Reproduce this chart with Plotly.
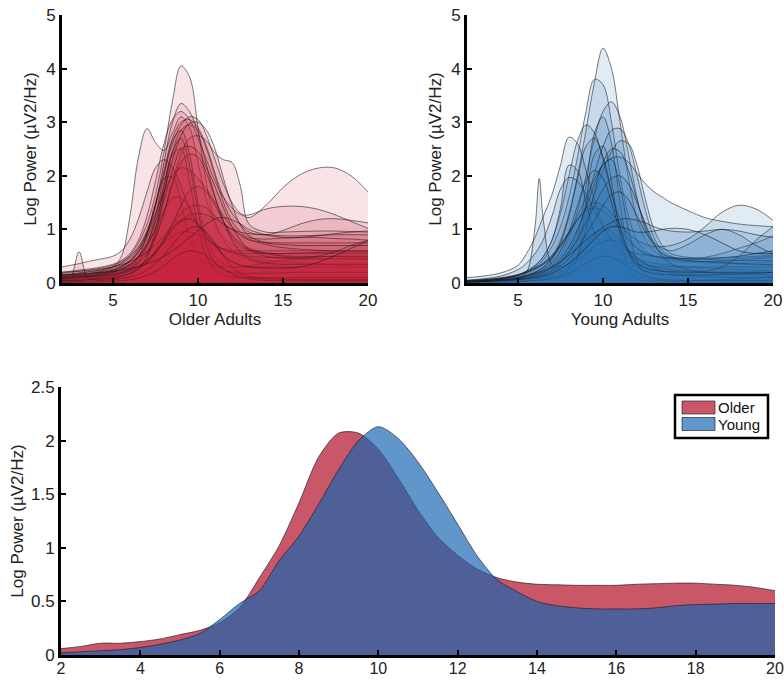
import plotly.graph_objects as go

# ---------------------------------------------------------------------------
# Individual log power spectra, older adults (one row per participant)
# ---------------------------------------------------------------------------
OLDER_FREQS = [2, 2.5, 3, 3.5, 4, 4.5, 5, 5.5, 6, 6.5, 7, 7.5, 8, 8.5, 9,
               9.5, 10, 10.5, 11, 11.5, 12, 12.5, 13, 14, 15, 16, 17, 18, 19, 20]

OLDER_SPECTRA = [
    [0.15, 0.16, 0.18, 0.2, 0.22, 0.25, 0.3, 0.38, 0.52, 0.75, 1.1, 1.65, 2.45, 3.4, 4.05, 3.85, 2.9, 1.85, 1.15, 0.8, 0.62, 0.52, 0.47, 0.42, 0.4, 0.38, 0.36, 0.34, 0.32, 0.3],
    [0.12, 0.13, 0.15, 0.17, 0.2, 0.24, 0.3, 0.5, 1.25, 2.35, 2.88, 2.62, 2.47, 2.8, 3.1, 2.9, 2.25, 1.55, 1.1, 0.85, 0.72, 0.65, 0.6, 0.55, 0.52, 0.5, 0.5, 0.49, 0.48, 0.47],
    [0.1, 0.11, 0.12, 0.14, 0.16, 0.19, 0.23, 0.3, 0.42, 0.62, 0.95, 1.45, 2.05, 2.6, 2.95, 3.1, 3.05, 2.75, 2.3, 1.85, 1.5, 1.3, 1.22, 1.45, 1.78, 2.02, 2.14, 2.15, 2.0, 1.7],
    [0.2, 0.22, 0.24, 0.26, 0.28, 0.31, 0.35, 0.42, 0.55, 0.8, 1.25, 1.9, 2.6, 3.05, 3.2, 3.05, 2.7, 2.3, 1.9, 1.6, 1.4, 1.28, 1.27, 1.38, 1.43, 1.43, 1.38, 1.28, 1.15, 1.02],
    [0.08, 0.09, 0.1, 0.11, 0.13, 0.15, 0.18, 0.22, 0.3, 0.42, 0.6, 0.9, 1.35, 1.9, 2.4, 2.7, 2.75, 2.65, 2.42, 2.3, 2.25, 1.8, 1.1, 0.95, 0.95, 0.96, 0.97, 0.97, 0.96, 0.95],
    [0.18, 0.2, 0.22, 0.24, 0.26, 0.29, 0.33, 0.4, 0.5, 0.68, 0.98, 1.45, 2.1, 2.7, 3.0, 3.05, 2.9, 2.55, 2.05, 1.6, 1.3, 1.1, 0.95, 0.9, 0.98, 1.1, 1.18, 1.2, 1.17, 1.12],
    [0.13, 0.14, 0.15, 0.17, 0.19, 0.22, 0.26, 0.32, 0.42, 0.58, 0.85, 1.25, 1.85, 2.45, 2.85, 2.95, 2.85, 2.5, 2.0, 1.5, 1.15, 0.95, 0.85, 0.82, 0.84, 0.85, 0.85, 0.83, 0.82, 0.8],
    [0.05, 0.06, 0.07, 0.08, 0.09, 0.11, 0.13, 0.17, 0.25, 0.4, 0.7, 1.25, 2.0, 2.65, 2.85, 2.4, 1.5, 0.85, 0.5, 0.35, 0.3, 0.3, 0.32, 0.38, 0.42, 0.45, 0.48, 0.5, 0.5, 0.5],
    [0.3, 0.33, 0.36, 0.4, 0.43, 0.46, 0.5, 0.6, 0.82, 1.2, 1.7, 2.15, 2.3, 2.15, 1.8, 1.4, 1.05, 0.82, 0.7, 0.64, 0.61, 0.6, 0.6, 0.6, 0.6, 0.6, 0.6, 0.6, 0.6, 0.6],
    [0.04, 0.05, 0.06, 0.07, 0.08, 0.1, 0.12, 0.17, 0.27, 0.48, 0.9, 1.5, 1.95, 1.98, 1.5, 0.85, 0.5, 0.38, 0.32, 0.3, 0.3, 0.3, 0.3, 0.3, 0.3, 0.3, 0.3, 0.3, 0.3, 0.3],
    [0.16, 0.17, 0.19, 0.21, 0.23, 0.26, 0.3, 0.36, 0.47, 0.65, 0.92, 1.3, 1.7, 2.0, 2.15, 2.1, 1.95, 1.75, 1.5, 1.25, 1.05, 0.9, 0.8, 0.76, 0.75, 0.75, 0.75, 0.75, 0.75, 0.75],
    [0.1, 0.11, 0.12, 0.13, 0.15, 0.17, 0.2, 0.25, 0.33, 0.47, 0.7, 1.0, 1.35, 1.58, 1.6, 1.4, 1.1, 0.85, 0.7, 0.62, 0.58, 0.56, 0.55, 0.55, 0.55, 0.55, 0.55, 0.55, 0.55, 0.55],
    [0.07, 0.08, 0.09, 0.1, 0.11, 0.13, 0.15, 0.18, 0.23, 0.3, 0.42, 0.6, 0.85, 1.1, 1.3, 1.42, 1.45, 1.4, 1.25, 1.1, 1.0, 0.95, 0.92, 0.9, 0.88, 0.88, 0.89, 0.9, 0.9, 0.9],
    [0.2, 0.21, 0.22, 0.23, 0.25, 0.27, 0.3, 0.34, 0.4, 0.48, 0.58, 0.72, 0.88, 1.05, 1.18, 1.27, 1.3, 1.27, 1.2, 1.1, 1.0, 0.9, 0.82, 0.72, 0.66, 0.63, 0.61, 0.6, 0.6, 0.6],
    [0.06, 0.07, 0.08, 0.09, 0.1, 0.12, 0.14, 0.17, 0.22, 0.3, 0.42, 0.58, 0.75, 0.88, 0.95, 0.95, 0.9, 0.82, 0.72, 0.63, 0.57, 0.53, 0.5, 0.48, 0.48, 0.48, 0.49, 0.5, 0.5, 0.5],
    [0.05, 0.1, 0.58, 0.1, 0.06, 0.06, 0.07, 0.09, 0.14, 0.25, 0.5, 1.0, 1.8, 2.4, 2.5, 1.9, 1.05, 0.5, 0.25, 0.15, 0.12, 0.1, 0.1, 0.1, 0.1, 0.1, 0.1, 0.1, 0.1, 0.1],
    [0.03, 0.04, 0.05, 0.06, 0.07, 0.08, 0.1, 0.13, 0.18, 0.28, 0.48, 0.9, 1.65, 2.45, 2.7, 2.2, 1.35, 0.7, 0.38, 0.25, 0.2, 0.18, 0.18, 0.18, 0.19, 0.2, 0.2, 0.2, 0.2, 0.2],
    [0.12, 0.13, 0.14, 0.15, 0.17, 0.19, 0.22, 0.27, 0.35, 0.48, 0.7, 1.05, 1.55, 2.1, 2.5, 2.55, 2.45, 2.15, 1.8, 1.4, 1.05, 0.8, 0.62, 0.5, 0.46, 0.45, 0.45, 0.45, 0.45, 0.45],
    [0.09, 0.1, 0.11, 0.12, 0.13, 0.15, 0.17, 0.2, 0.25, 0.32, 0.42, 0.58, 0.8, 1.1, 1.45, 1.72, 1.8, 1.7, 1.45, 1.15, 0.9, 0.75, 0.65, 0.55, 0.5, 0.48, 0.5, 0.58, 0.7, 0.8],
    [0.08, 0.09, 0.1, 0.11, 0.12, 0.14, 0.16, 0.2, 0.27, 0.38, 0.55, 0.85, 1.3, 1.85, 2.25, 2.4, 2.35, 2.05, 1.6, 1.15, 0.8, 0.58, 0.45, 0.37, 0.35, 0.35, 0.35, 0.35, 0.35, 0.35],
    [0.02, 0.02, 0.03, 0.03, 0.04, 0.05, 0.06, 0.08, 0.11, 0.16, 0.24, 0.36, 0.52, 0.72, 0.9, 1.02, 1.05, 0.95, 0.75, 0.5, 0.3, 0.18, 0.12, 0.08, 0.07, 0.06, 0.06, 0.06, 0.06, 0.06],
    [0.01, 0.01, 0.02, 0.02, 0.02, 0.03, 0.03, 0.04, 0.06, 0.09, 0.14, 0.22, 0.32, 0.45, 0.55, 0.6, 0.58, 0.5, 0.38, 0.26, 0.17, 0.11, 0.08, 0.05, 0.04, 0.04, 0.04, 0.04, 0.04, 0.04],
    [0.14, 0.15, 0.16, 0.17, 0.19, 0.21, 0.24, 0.3, 0.4, 0.58, 0.9, 1.45, 2.25, 3.0, 3.35, 3.2, 2.8, 2.2, 1.6, 1.15, 0.85, 0.7, 0.62, 0.56, 0.55, 0.56, 0.57, 0.58, 0.58, 0.58],
    [0.15, 0.16, 0.17, 0.18, 0.19, 0.2, 0.22, 0.24, 0.27, 0.31, 0.36, 0.42, 0.5, 0.6, 0.72, 0.85, 0.98, 1.1, 1.2, 1.22, 1.18, 1.1, 1.0, 0.9, 0.85, 0.85, 0.88, 0.92, 0.95, 0.97],
    [0.04, 0.05, 0.05, 0.06, 0.07, 0.08, 0.1, 0.13, 0.18, 0.26, 0.38, 0.55, 0.78, 1.0, 1.15, 1.2, 1.1, 0.9, 0.7, 0.52, 0.4, 0.33, 0.3, 0.28, 0.28, 0.3, 0.38, 0.5, 0.65, 0.78],
    [0.1, 0.11, 0.12, 0.13, 0.15, 0.17, 0.2, 0.25, 0.34, 0.5, 0.75, 1.15, 1.7, 2.3, 2.75, 2.98, 3.0, 2.85, 2.5, 1.95, 1.45, 1.08, 0.88, 0.75, 0.72, 0.7, 0.7, 0.7, 0.7, 0.7],
]

# ---------------------------------------------------------------------------
# Individual log power spectra, young adults
# ---------------------------------------------------------------------------
YOUNG_FREQS = [2, 3, 4, 5, 5.5, 6, 6.25, 6.5, 7, 7.5, 8, 8.5, 9, 9.5, 10,
               10.5, 11, 11.5, 12, 12.5, 13, 13.5, 14, 15, 16, 17, 18, 19, 20]

YOUNG_SPECTRA = [
    [0.03, 0.04, 0.06, 0.1, 0.14, 0.2, 0.24, 0.3, 0.48, 0.8, 1.3, 2.0, 2.85, 3.75, 4.38, 4.0, 3.0, 1.95, 1.2, 0.8, 0.6, 0.5, 0.45, 0.4, 0.38, 0.37, 0.37, 0.38, 0.4],
    [0.05, 0.07, 0.1, 0.16, 0.22, 0.3, 0.36, 0.44, 0.68, 1.05, 1.6, 2.35, 3.2, 3.8, 3.7, 3.0, 2.0, 1.25, 0.8, 0.6, 0.5, 0.45, 0.42, 0.4, 0.4, 0.42, 0.45, 0.48, 0.5],
    [0.02, 0.03, 0.04, 0.07, 0.1, 0.14, 0.17, 0.21, 0.33, 0.52, 0.85, 1.35, 2.0, 2.7, 3.2, 3.38, 3.1, 2.4, 1.6, 1.0, 0.7, 0.55, 0.48, 0.45, 0.45, 0.47, 0.5, 0.55, 0.6],
    [0.01, 0.01, 0.02, 0.03, 0.04, 0.05, 0.06, 0.07, 0.1, 0.15, 0.3, 0.8, 1.8, 2.8, 3.1, 2.6, 1.5, 0.6, 0.2, 0.08, 0.05, 0.04, 0.04, 0.04, 0.04, 0.04, 0.04, 0.04, 0.04],
    [0.04, 0.06, 0.09, 0.15, 0.22, 0.32, 0.4, 0.5, 0.8, 1.3, 2.0, 2.65, 2.95, 2.8, 2.3, 1.7, 1.2, 0.85, 0.65, 0.55, 0.5, 0.48, 0.47, 0.46, 0.46, 0.47, 0.48, 0.5, 0.52],
    [0.02, 0.03, 0.04, 0.06, 0.08, 0.11, 0.13, 0.16, 0.24, 0.38, 0.6, 0.95, 1.45, 2.05, 2.55, 2.85, 2.88, 2.6, 2.0, 1.35, 0.85, 0.6, 0.5, 0.42, 0.4, 0.4, 0.42, 0.45, 0.48],
    [0.1, 0.13, 0.19, 0.33, 0.55, 0.85, 1.05, 1.25, 1.65, 2.2, 2.72, 2.6, 2.1, 1.55, 1.1, 0.8, 0.62, 0.52, 0.45, 0.4, 0.37, 0.35, 0.33, 0.3, 0.28, 0.26, 0.25, 0.24, 0.24],
    [0.02, 0.03, 0.05, 0.08, 0.1, 0.13, 0.15, 0.18, 0.25, 0.37, 0.55, 0.82, 1.2, 1.65, 2.1, 2.45, 2.65, 2.6, 2.2, 1.55, 1.0, 0.7, 0.55, 0.48, 0.46, 0.47, 0.5, 0.55, 0.6],
    [0.01, 0.01, 0.02, 0.03, 0.04, 0.05, 0.06, 0.06, 0.08, 0.1, 0.12, 0.5, 1.5, 2.4, 2.55, 1.9, 0.9, 0.3, 0.08, 0.04, 0.03, 0.03, 0.03, 0.03, 0.03, 0.03, 0.03, 0.03, 0.03],
    [0.04, 0.06, 0.09, 0.15, 0.2, 0.27, 0.31, 0.36, 0.5, 0.7, 0.95, 1.25, 1.6, 1.95, 2.2, 2.33, 2.35, 2.25, 2.05, 1.85, 1.7, 1.6, 1.5, 1.35, 1.22, 1.15, 1.1, 1.07, 1.05],
    [0.03, 0.05, 0.08, 0.15, 0.22, 0.33, 0.4, 0.5, 0.8, 1.4, 2.2, 2.1, 1.5, 0.95, 0.65, 0.5, 0.42, 0.38, 0.35, 0.33, 0.32, 0.31, 0.3, 0.3, 0.3, 0.3, 0.3, 0.3, 0.3],
    [0.05, 0.08, 0.13, 0.25, 0.37, 0.55, 0.67, 0.82, 1.25, 1.75, 1.97, 1.9, 1.65, 1.35, 1.05, 0.82, 0.68, 0.6, 0.55, 0.52, 0.5, 0.48, 0.47, 0.45, 0.44, 0.43, 0.42, 0.42, 0.42],
    [0.02, 0.03, 0.05, 0.09, 0.2, 1.05, 1.95, 1.15, 0.35, 0.3, 0.35, 0.48, 0.7, 0.9, 1.0, 0.95, 0.8, 0.6, 0.45, 0.35, 0.3, 0.27, 0.25, 0.22, 0.2, 0.18, 0.17, 0.16, 0.15],
    [0.02, 0.04, 0.07, 0.14, 0.2, 0.28, 0.33, 0.38, 0.52, 0.72, 0.95, 1.18, 1.35, 1.4, 1.35, 1.2, 1.0, 0.8, 0.65, 0.55, 0.5, 0.47, 0.46, 0.46, 0.48, 0.55, 0.65, 0.75, 0.88],
    [0.01, 0.01, 0.02, 0.03, 0.04, 0.05, 0.06, 0.07, 0.1, 0.15, 0.25, 0.5, 1.0, 1.7, 2.2, 2.3, 1.8, 1.0, 0.4, 0.15, 0.07, 0.05, 0.04, 0.04, 0.05, 0.06, 0.08, 0.1, 0.12],
    [0.01, 0.02, 0.03, 0.05, 0.06, 0.08, 0.09, 0.1, 0.14, 0.2, 0.3, 0.42, 0.55, 0.68, 0.77, 0.8, 0.75, 0.62, 0.48, 0.36, 0.28, 0.22, 0.18, 0.14, 0.12, 0.11, 0.1, 0.1, 0.1],
    [0.01, 0.01, 0.02, 0.03, 0.04, 0.05, 0.05, 0.06, 0.08, 0.12, 0.18, 0.27, 0.37, 0.45, 0.5, 0.48, 0.4, 0.3, 0.2, 0.13, 0.09, 0.07, 0.06, 0.05, 0.05, 0.05, 0.05, 0.05, 0.05],
    [0.03, 0.05, 0.08, 0.14, 0.19, 0.26, 0.3, 0.35, 0.48, 0.68, 0.92, 1.18, 1.4, 1.5, 1.45, 1.3, 1.1, 0.92, 0.8, 0.72, 0.68, 0.68, 0.7, 0.82, 1.05, 1.32, 1.45, 1.38, 1.17],
    [0.02, 0.03, 0.05, 0.08, 0.11, 0.15, 0.17, 0.2, 0.28, 0.4, 0.58, 0.82, 1.12, 1.45, 1.75, 1.95, 2.0, 1.85, 1.5, 1.1, 0.75, 0.5, 0.36, 0.25, 0.22, 0.3, 0.5, 0.8, 1.05],
    [0.02, 0.03, 0.05, 0.08, 0.11, 0.15, 0.18, 0.21, 0.3, 0.45, 0.68, 1.0, 1.4, 1.85, 2.25, 2.5, 2.45, 2.1, 1.55, 1.05, 0.72, 0.55, 0.47, 0.42, 0.4, 0.38, 0.36, 0.35, 0.34],
    [0.02, 0.03, 0.05, 0.07, 0.09, 0.12, 0.14, 0.16, 0.22, 0.32, 0.46, 0.66, 0.9, 1.17, 1.45, 1.65, 1.7, 1.55, 1.25, 0.95, 0.75, 0.65, 0.6, 0.72, 0.9, 1.0, 0.9, 0.7, 0.55],
    [0.02, 0.03, 0.05, 0.09, 0.13, 0.18, 0.21, 0.25, 0.38, 0.6, 0.95, 1.45, 1.9, 2.1, 1.95, 1.5, 0.95, 0.55, 0.32, 0.22, 0.18, 0.16, 0.15, 0.15, 0.15, 0.16, 0.17, 0.18, 0.2],
    [0.03, 0.05, 0.07, 0.11, 0.14, 0.18, 0.2, 0.23, 0.3, 0.4, 0.52, 0.66, 0.8, 0.93, 1.04, 1.13, 1.19, 1.2, 1.17, 1.12, 1.05, 1.0, 0.97, 0.95, 0.97, 1.0, 0.97, 0.9, 0.85],
    [0.03, 0.04, 0.06, 0.1, 0.14, 0.2, 0.24, 0.29, 0.45, 0.75, 1.25, 1.95, 2.55, 2.7, 2.35, 1.7, 1.05, 0.6, 0.38, 0.28, 0.24, 0.22, 0.21, 0.2, 0.2, 0.2, 0.2, 0.2, 0.2],
    [0.02, 0.03, 0.04, 0.06, 0.08, 0.1, 0.11, 0.13, 0.18, 0.26, 0.37, 0.5, 0.65, 0.82, 0.97, 1.05, 1.05, 1.0, 0.95, 0.95, 0.97, 1.0, 1.02, 1.0, 0.9, 0.75, 0.6, 0.55, 0.55],
]

# ---------------------------------------------------------------------------
# Group-average spectra
# ---------------------------------------------------------------------------
MEAN_FREQS = [2, 2.5, 3, 3.5, 4, 4.5, 5, 5.5, 6, 6.5, 7, 7.5, 8, 8.5, 9, 9.5,
              10, 10.5, 11, 11.5, 12, 12.5, 13, 13.5, 14, 14.5, 15, 15.5, 16,
              16.5, 17, 17.5, 18, 18.5, 19, 19.5, 20]

OLDER_MEAN = [0.06, 0.08, 0.11, 0.11, 0.125, 0.15, 0.19, 0.23, 0.3, 0.44, 0.72,
              1.02, 1.42, 1.85, 2.07, 2.07, 1.92, 1.65, 1.35, 1.1, 0.93, 0.8,
              0.72, 0.68, 0.66, 0.655, 0.65, 0.65, 0.65, 0.66, 0.665, 0.67,
              0.67, 0.66, 0.65, 0.63, 0.6]

YOUNG_MEAN = [0.02, 0.03, 0.04, 0.05, 0.07, 0.1, 0.14, 0.2, 0.33, 0.48, 0.6,
              0.88, 1.11, 1.41, 1.73, 2.0, 2.13, 2.02, 1.8, 1.52, 1.22, 0.92,
              0.7, 0.59, 0.5, 0.46, 0.44, 0.43, 0.43, 0.43, 0.44, 0.46, 0.47,
              0.475, 0.48, 0.48, 0.48]

GROUP_NAMES = ["Older", "Young"]

# ---------------------------------------------------------------------------
# Styling
# ---------------------------------------------------------------------------
W, H = 784, 680
FONT = "Liberation Sans, Arial, Helvetica, sans-serif"
YTITLE = "Log Power (µV2/Hz)"

OLDER_LAYER = "rgba(195, 35, 55, 0.12)"
YOUNG_LAYER = "rgba(40, 110, 180, 0.14)"
SUBJECT_EDGE = "rgba(25, 25, 25, 0.72)"

OLDER_AREA = "rgba(176, 8, 31, 0.68)"
YOUNG_AREA = "rgba(20, 100, 177, 0.68)"
MEAN_EDGE = "rgba(30, 30, 50, 0.85)"


def px(x):
    return x / W


def py(y):
    return (H - y) / H


def xdom(left, right):
    return [px(left), px(right)]


def ydom(top, bottom):
    return [py(bottom), py(top)]


fig = go.Figure()

for spectrum in OLDER_SPECTRA:
    fig.add_trace(go.Scatter(
        x=OLDER_FREQS, y=spectrum, mode="lines", fill="tozeroy",
        fillcolor=OLDER_LAYER,
        line=dict(color=SUBJECT_EDGE, width=0.8, shape="spline", smoothing=1.0),
        xaxis="x", yaxis="y", showlegend=False, hoverinfo="skip"))

for spectrum in YOUNG_SPECTRA:
    fig.add_trace(go.Scatter(
        x=YOUNG_FREQS, y=spectrum, mode="lines", fill="tozeroy",
        fillcolor=YOUNG_LAYER,
        line=dict(color=SUBJECT_EDGE, width=0.8, shape="spline", smoothing=1.0),
        xaxis="x2", yaxis="y2", showlegend=False, hoverinfo="skip"))

for name, values, color in ((GROUP_NAMES[0], OLDER_MEAN, OLDER_AREA),
                            (GROUP_NAMES[1], YOUNG_MEAN, YOUNG_AREA)):
    fig.add_trace(go.Scatter(
        x=MEAN_FREQS, y=values, mode="lines", fill="tozeroy", fillcolor=color,
        line=dict(color=MEAN_EDGE, width=0.8, shape="spline", smoothing=0.8),
        xaxis="x3", yaxis="y3", name=name, showlegend=False))

axis_common = dict(
    showline=True, linecolor="black", linewidth=3, mirror=False,
    ticks="inside", ticklen=5, tickwidth=2, tickcolor="black",
    showgrid=False, zeroline=False, automargin=False,
    ticklabeloverflow="allow",
    tickfont=dict(family=FONT, size=17, color="#222"),
)

title_font = dict(family=FONT, size=17, color="#222")

# Legend box for the group averages: outer frame, colour swatches, labels
shapes = [dict(type="rect", xref="paper", yref="paper",
               x0=px(675), x1=px(768), y0=py(438), y1=py(395),
               line=dict(color="black", width=2.5), fillcolor="white",
               layer="above")]
annotations = []
for i, (name, color) in enumerate(zip(GROUP_NAMES, (OLDER_AREA, YOUNG_AREA))):
    top = 401 + i * 16.5
    shapes.append(dict(type="rect", xref="paper", yref="paper",
                       x0=px(682), x1=px(715), y0=py(top + 13), y1=py(top),
                       line=dict(color=MEAN_EDGE, width=0.8), fillcolor=color,
                       layer="above"))
    annotations.append(dict(x=px(716), y=py(top + 6.5), xref="paper",
                            yref="paper", text=name, showarrow=False,
                            xanchor="left", yanchor="middle",
                            font=dict(family=FONT, size=15, color="#111")))

bottom_x = dict(axis_common)
bottom_x["tickfont"] = dict(family=FONT, size=16, color="#222")

fig.update_layout(
    width=W, height=H,
    margin=dict(l=0, r=0, t=0, b=0),
    paper_bgcolor="white", plot_bgcolor="white",
    font=dict(family=FONT, size=17, color="#222"),
    showlegend=False,
    shapes=shapes, annotations=annotations,
    xaxis=dict(domain=xdom(62, 368), range=[2, 20], tickvals=[5, 10, 15, 20],
               anchor="y",
               title=dict(text="Older Adults", font=title_font, standoff=4),
               **axis_common),
    yaxis=dict(domain=ydom(15, 283), range=[0, 5], tickvals=[0, 1, 2, 3, 4, 5],
               anchor="x",
               title=dict(text=YTITLE, font=title_font, standoff=6),
               **axis_common),
    xaxis2=dict(domain=xdom(467, 773), range=[2, 20], tickvals=[5, 10, 15, 20],
                anchor="y2",
                title=dict(text="Young Adults", font=title_font, standoff=4),
                **axis_common),
    yaxis2=dict(domain=ydom(15, 283), range=[0, 5], tickvals=[0, 1, 2, 3, 4, 5],
                anchor="x2",
                title=dict(text=YTITLE, font=title_font, standoff=6),
                **axis_common),
    xaxis3=dict(domain=xdom(61, 775), range=[2, 20],
                tickvals=[2, 4, 6, 8, 10, 12, 14, 16, 18, 20],
                anchor="y3", ticklabelstandoff=-3, **bottom_x),
    yaxis3=dict(domain=ydom(387, 655), range=[0, 2.5],
                tickvals=[0, 0.5, 1, 1.5, 2, 2.5],
                ticktext=["0", "0.5", "1", "1.5", "2", "2.5"],
                anchor="x3",
                title=dict(text=YTITLE, font=title_font, standoff=4),
                **axis_common),
)

fig.write_html("out.html")
